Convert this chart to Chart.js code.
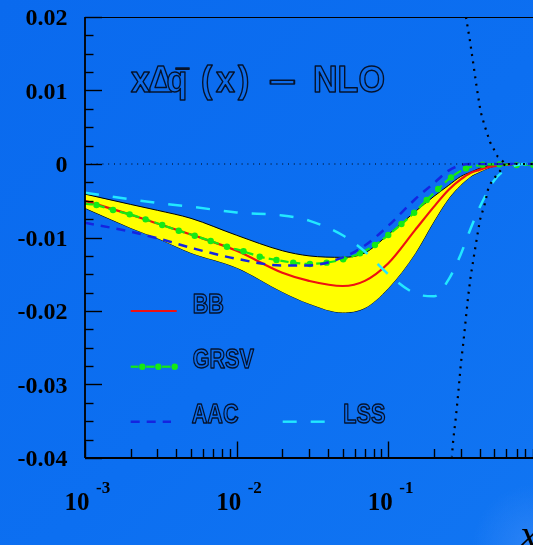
<!DOCTYPE html>
<html><head><meta charset="utf-8">
<script src="https://cdn.jsdelivr.net/npm/chart.js@4.4.0/dist/chart.umd.min.js"></script>
<style>
html,body{margin:0;padding:0;width:533px;height:545px;overflow:hidden;}
body{background:#0b6ef0;background-image:radial-gradient(circle at 100% 100%, rgba(60,140,248,0.6) 0px, rgba(60,140,248,0) 60px), linear-gradient(135deg,#0a6aee 0%,#0c6ff1 55%,#1175f2 100%);}
#wrap{position:absolute;left:0;top:0;width:560px;height:545px;}
</style></head><body>
<div id="wrap"><canvas id="c" width="560" height="545"></canvas></div>
<script>
// ---- data ----
const xGrid      = [0.001,0.002,0.003,0.005,0.01,0.02,0.03,0.05,0.07,0.1,0.15,0.2,0.25,0.3,0.35,0.4,0.45,0.5,0.6,0.7,0.8,1.0];
const bbValues   = [-0.0050,-0.0069,-0.0081,-0.0096,-0.0118,-0.0148,-0.0159,-0.0166,-0.0159,-0.0135,-0.0090,-0.0058,-0.0035,-0.0021,-0.0012,-0.0008,-0.00045,-0.0003,-0.0001,0,0,0];
const bandUpper  = [-0.0041,-0.0055,-0.0063,-0.0074,-0.0097,-0.0118,-0.0125,-0.0127,-0.0121,-0.0096,-0.0065,-0.0044,-0.0029,-0.0017,-0.0011,-0.0006,-0.0003,-0.0002,0,0,0,0];
const bandLower  = [-0.0060,-0.0087,-0.0101,-0.0121,-0.0141,-0.0174,-0.0190,-0.0202,-0.0196,-0.0169,-0.0122,-0.0078,-0.0047,-0.0029,-0.0017,-0.0011,-0.0006,-0.0003,-0.0001,0,0,0];
const aacValues  = [-0.0080,-0.0092,-0.0101,-0.0114,-0.0129,-0.0138,-0.0138,-0.0127,-0.0111,-0.0084,-0.0048,-0.0026,-0.0009,-0.00015,0,0,0,0,0,0,0,0];
const lssValues  = [-0.0039,-0.0048,-0.0053,-0.0058,-0.0066,-0.0070,-0.0077,-0.0097,-0.0119,-0.0150,-0.0176,-0.0180,-0.0157,-0.0123,-0.0087,-0.0059,-0.0038,-0.0022,-0.0007,-0.00015,0,0];

const grsvX = [0.001,0.00119,0.00153,0.00197,0.00251,0.00323,0.00415,0.00529,0.00674,0.00863,0.0111,0.0142,0.0183,0.0236,0.0304,0.0392,0.0504,0.0650,0.0816,0.0999,0.122,0.148,0.179,0.213,0.259,0.325,0.418,0.539,0.701,0.904];
const grsvY = [-0.0054,-0.00558,-0.00626,-0.00685,-0.00753,-0.00830,-0.00908,-0.00976,-0.01048,-0.01125,-0.01188,-0.01261,-0.01306,-0.01342,-0.01360,-0.01342,-0.01296,-0.01215,-0.01102,-0.00966,-0.00817,-0.00663,-0.00490,-0.00341,-0.00182,-0.00060,-0.00011,-0.00005,-0.00015,-0.0001];

const boundUpX = [0.325,0.345,0.363,0.382,0.406,0.433,0.468,0.526,0.572,0.587,1.0];
const boundUpY = [0.0200,0.0168,0.0137,0.0105,0.0071,0.0051,0.0030,0.0010,0.0003,0,0];
const boundLoX = [0.587,0.558,0.518,0.480,0.456,0.433,0.402,0.382,0.363,0.349,0.336,0.323,0.312,0.301,0.289,0.279,0.268,0.2625];
const boundLoY = [0,-0.0007,-0.0015,-0.0024,-0.0033,-0.0054,-0.0076,-0.0103,-0.0131,-0.0153,-0.0180,-0.0214,-0.0244,-0.0271,-0.0312,-0.0344,-0.0375,-0.0398];

const yTickValues = [0.02,0.01,0,-0.01,-0.02,-0.03,-0.04];
const yTickLabels = ["0.02","0.01","0","-0.01","-0.02","-0.03","-0.04"];
const xTickValues = [0.001,0.01,0.1];
const xTickBase   = ["10","10","10"];
const xTickExps   = ["-3","-2","-1"];
const seriesNames = ["BB","GRSV","AAC","LSS"];
const titleText   = ["x","Δ","q","¯","(","x",")","–","NLO"];
const axisTitle   = "x";

// ---- colours ----
const RED='#ee1111', GREEN='#14ea14', BLUE='#1424e0', CYAN='#22e8ff', YELLOW='#ffff00', BG='#0d6cec';

const pts = (xs, ys) => xs.map((v,i)=>({x:v,y:ys[i]}));

function outlined(ctx, text, x, y, font, sx){
  ctx.save();
  ctx.translate(x,y); ctx.scale(sx,1);
  ctx.font=font; ctx.textAlign='left'; ctx.textBaseline='alphabetic';
  ctx.lineJoin='round';
  ctx.fillStyle=BG; ctx.fillText(text,0,0);
  ctx.lineWidth=1.5; ctx.strokeStyle='#06122a'; ctx.strokeText(text,0,0);
  ctx.restore();
}

const decor = {
  id:'decor',
  afterDatasetsDraw(chart){
    const {ctx, chartArea:a, scales:{x,y}} = chart;
    ctx.save();
    ctx.strokeStyle='#000'; ctx.lineCap='butt';
    ctx.lineWidth=1;
    ctx.beginPath(); ctx.moveTo(a.left, a.top+0.5); ctx.lineTo(a.right, a.top+0.5); ctx.stroke();
    ctx.lineWidth=1.8;
    ctx.beginPath(); ctx.moveTo(a.left, a.top); ctx.lineTo(a.left, a.bottom); ctx.stroke();
    ctx.lineWidth=2;
    ctx.beginPath(); ctx.moveTo(a.left, a.bottom); ctx.lineTo(a.right, a.bottom); ctx.stroke();
    ctx.lineWidth=1.4;
    for(let i=-16;i<=8;i++){
      const py=Math.round(y.getPixelForValue(i*0.0025))+0.5;
      const len = (i%4===0)?17:8.5;
      ctx.beginPath(); ctx.moveTo(a.left,py); ctx.lineTo(a.left+len,py); ctx.stroke();
    }
    for(let k=-3;k<=0;k++){
      for(let m=1;m<=9;m++){
        const v=m*Math.pow(10,k);
        if(v<0.001||v>1) continue;
        const px=Math.round(x.getPixelForValue(v))+0.5;
        const len=(m===1)?16.5:9;
        ctx.beginPath(); ctx.moveTo(px,a.bottom); ctx.lineTo(px,a.bottom-len); ctx.stroke();
      }
    }
    ctx.fillStyle='#000';
    ctx.font='bold 24px "Liberation Serif", "Times New Roman", serif';
    ctx.textAlign='right'; ctx.textBaseline='middle';
    yTickValues.forEach((v,i)=>{
      ctx.fillText(yTickLabels[i], 67.5, y.getPixelForValue(v)+2);
    });
    ctx.textAlign='left'; ctx.textBaseline='alphabetic';
    xTickValues.forEach((v,i)=>{
      const px=x.getPixelForValue(v);
      ctx.font='bold 25px "Liberation Serif", "Times New Roman", serif';
      ctx.fillText(xTickBase[i], px-20.5, 510);
      ctx.font='bold 17px "Liberation Serif", "Times New Roman", serif';
      ctx.fillText(xTickExps[i], px+11, 493);
    });
    ctx.font='italic 40px "Liberation Serif", "Times New Roman", serif';
    ctx.fillText(axisTitle, 520, 548);

    // title
    const tf='bold 37px "Liberation Sans", Arial, sans-serif';
    const tpos=[[131,91.7,tf,0.92],[148.5,91.7,tf,0.92],[166.5,91.7,tf,0.92],[176,88,'bold 26px "Liberation Sans", Arial, sans-serif',0.9],
                [201,91.7,tf,0.92],[216,91.7,tf,0.92],[238,91.7,tf,0.92],[269,91.7,tf,1.3],[313,91.7,tf,0.92]];
    titleText.forEach((t,i)=>{
      outlined(ctx, t, tpos[i][0], tpos[i][1], tpos[i][2], tpos[i][3]);
    });

    // legend samples
    const lf='bold 27px "Liberation Sans", Arial, sans-serif';
    ctx.setLineDash([]);
    ctx.strokeStyle=RED; ctx.lineWidth=2.2;
    ctx.beginPath(); ctx.moveTo(130.7,311); ctx.lineTo(176.7,311); ctx.stroke();
    ctx.strokeStyle=GREEN; ctx.lineWidth=2.2;
    [[130.7,138.5],[146,154.5],[162,170.5]].forEach(s=>{ctx.beginPath();ctx.moveTo(s[0],366.7);ctx.lineTo(s[1],366.7);ctx.stroke();});
    ctx.fillStyle=GREEN;
    [142.3,158.3,174.7].forEach(cx=>{ctx.beginPath();ctx.arc(cx,366.7,3.2,0,Math.PI*2);ctx.fill();});
    ctx.strokeStyle=BLUE; ctx.lineWidth=2.4; ctx.setLineDash([9,7]);
    ctx.beginPath(); ctx.moveTo(130.7,421.7); ctx.lineTo(171,421.7); ctx.stroke();
    ctx.strokeStyle=CYAN; ctx.setLineDash([14,14]);
    ctx.beginPath(); ctx.moveTo(282.7,421.7); ctx.lineTo(325,421.7); ctx.stroke();
    ctx.setLineDash([]);
    outlined(ctx, seriesNames[0], 192.7, 312.7, lf, 0.8);
    outlined(ctx, seriesNames[1], 192.7, 368.3, lf, 0.8);
    outlined(ctx, seriesNames[2], 191.7, 422.5, lf, 0.8);
    outlined(ctx, seriesNames[3], 343.3, 422.5, lf, 0.8);
    ctx.restore();
  }
};

const grsvRadius = grsvX.map((v,i)=> i===0?0:3.2);

new Chart(document.getElementById('c'), {
  type:'line',
  data:{
    datasets:[
      {label:'bound+', data:pts(boundUpX,boundUpY), borderColor:'#000', borderWidth:2.2, borderDash:[2,5.5], pointRadius:0, tension:0, fill:false},
      {label:'bound-', data:pts(boundLoX,boundLoY), borderColor:'#000', borderWidth:2.2, borderDash:[2,5.5], pointRadius:0, tension:0, fill:false},
      {label:'zero', data:[{x:0.001,y:0},{x:1,y:0}], borderColor:'#000', borderWidth:1, borderDash:[1,4.8], pointRadius:0, fill:false},
      {label:'LSS', data:pts(xGrid,lssValues), borderColor:CYAN, borderWidth:2.5, borderDash:[14,14], pointRadius:0, cubicInterpolationMode:'monotone', fill:false},
      {label:'AAC', data:pts(xGrid,aacValues), borderColor:BLUE, borderWidth:2.5, borderDash:[9,7], pointRadius:0, cubicInterpolationMode:'monotone', fill:false},
      {label:'GRSV', data:pts(grsvX,grsvY), borderColor:GREEN, borderWidth:2.2, borderDash:[8,4], pointRadius:grsvRadius, pointBackgroundColor:GREEN, pointBorderWidth:0, tension:0.3, fill:false},
      {label:'BB', data:pts(xGrid,bbValues), borderColor:RED, borderWidth:2.2, pointRadius:0, cubicInterpolationMode:'monotone', fill:false},
      {label:'band+', data:pts(xGrid,bandUpper), borderColor:'#000', borderWidth:1, pointRadius:0, cubicInterpolationMode:'monotone', fill:'+1', backgroundColor:YELLOW},
      {label:'band-', data:pts(xGrid,bandLower), borderColor:'#000', borderWidth:1, pointRadius:0, cubicInterpolationMode:'monotone', fill:false}
    ]
  },
  options:{
    responsive:false, animation:false, devicePixelRatio:1,
    layout:{padding:{left:85,top:17,right:20,bottom:87}},
    plugins:{legend:{display:false}, tooltip:{enabled:false}, title:{display:false}},
    scales:{
      x:{type:'logarithmic', min:0.001, max:1, display:false},
      y:{type:'linear', min:-0.04, max:0.02, display:false}
    }
  },
  plugins:[decor]
});
</script>
</body></html>
